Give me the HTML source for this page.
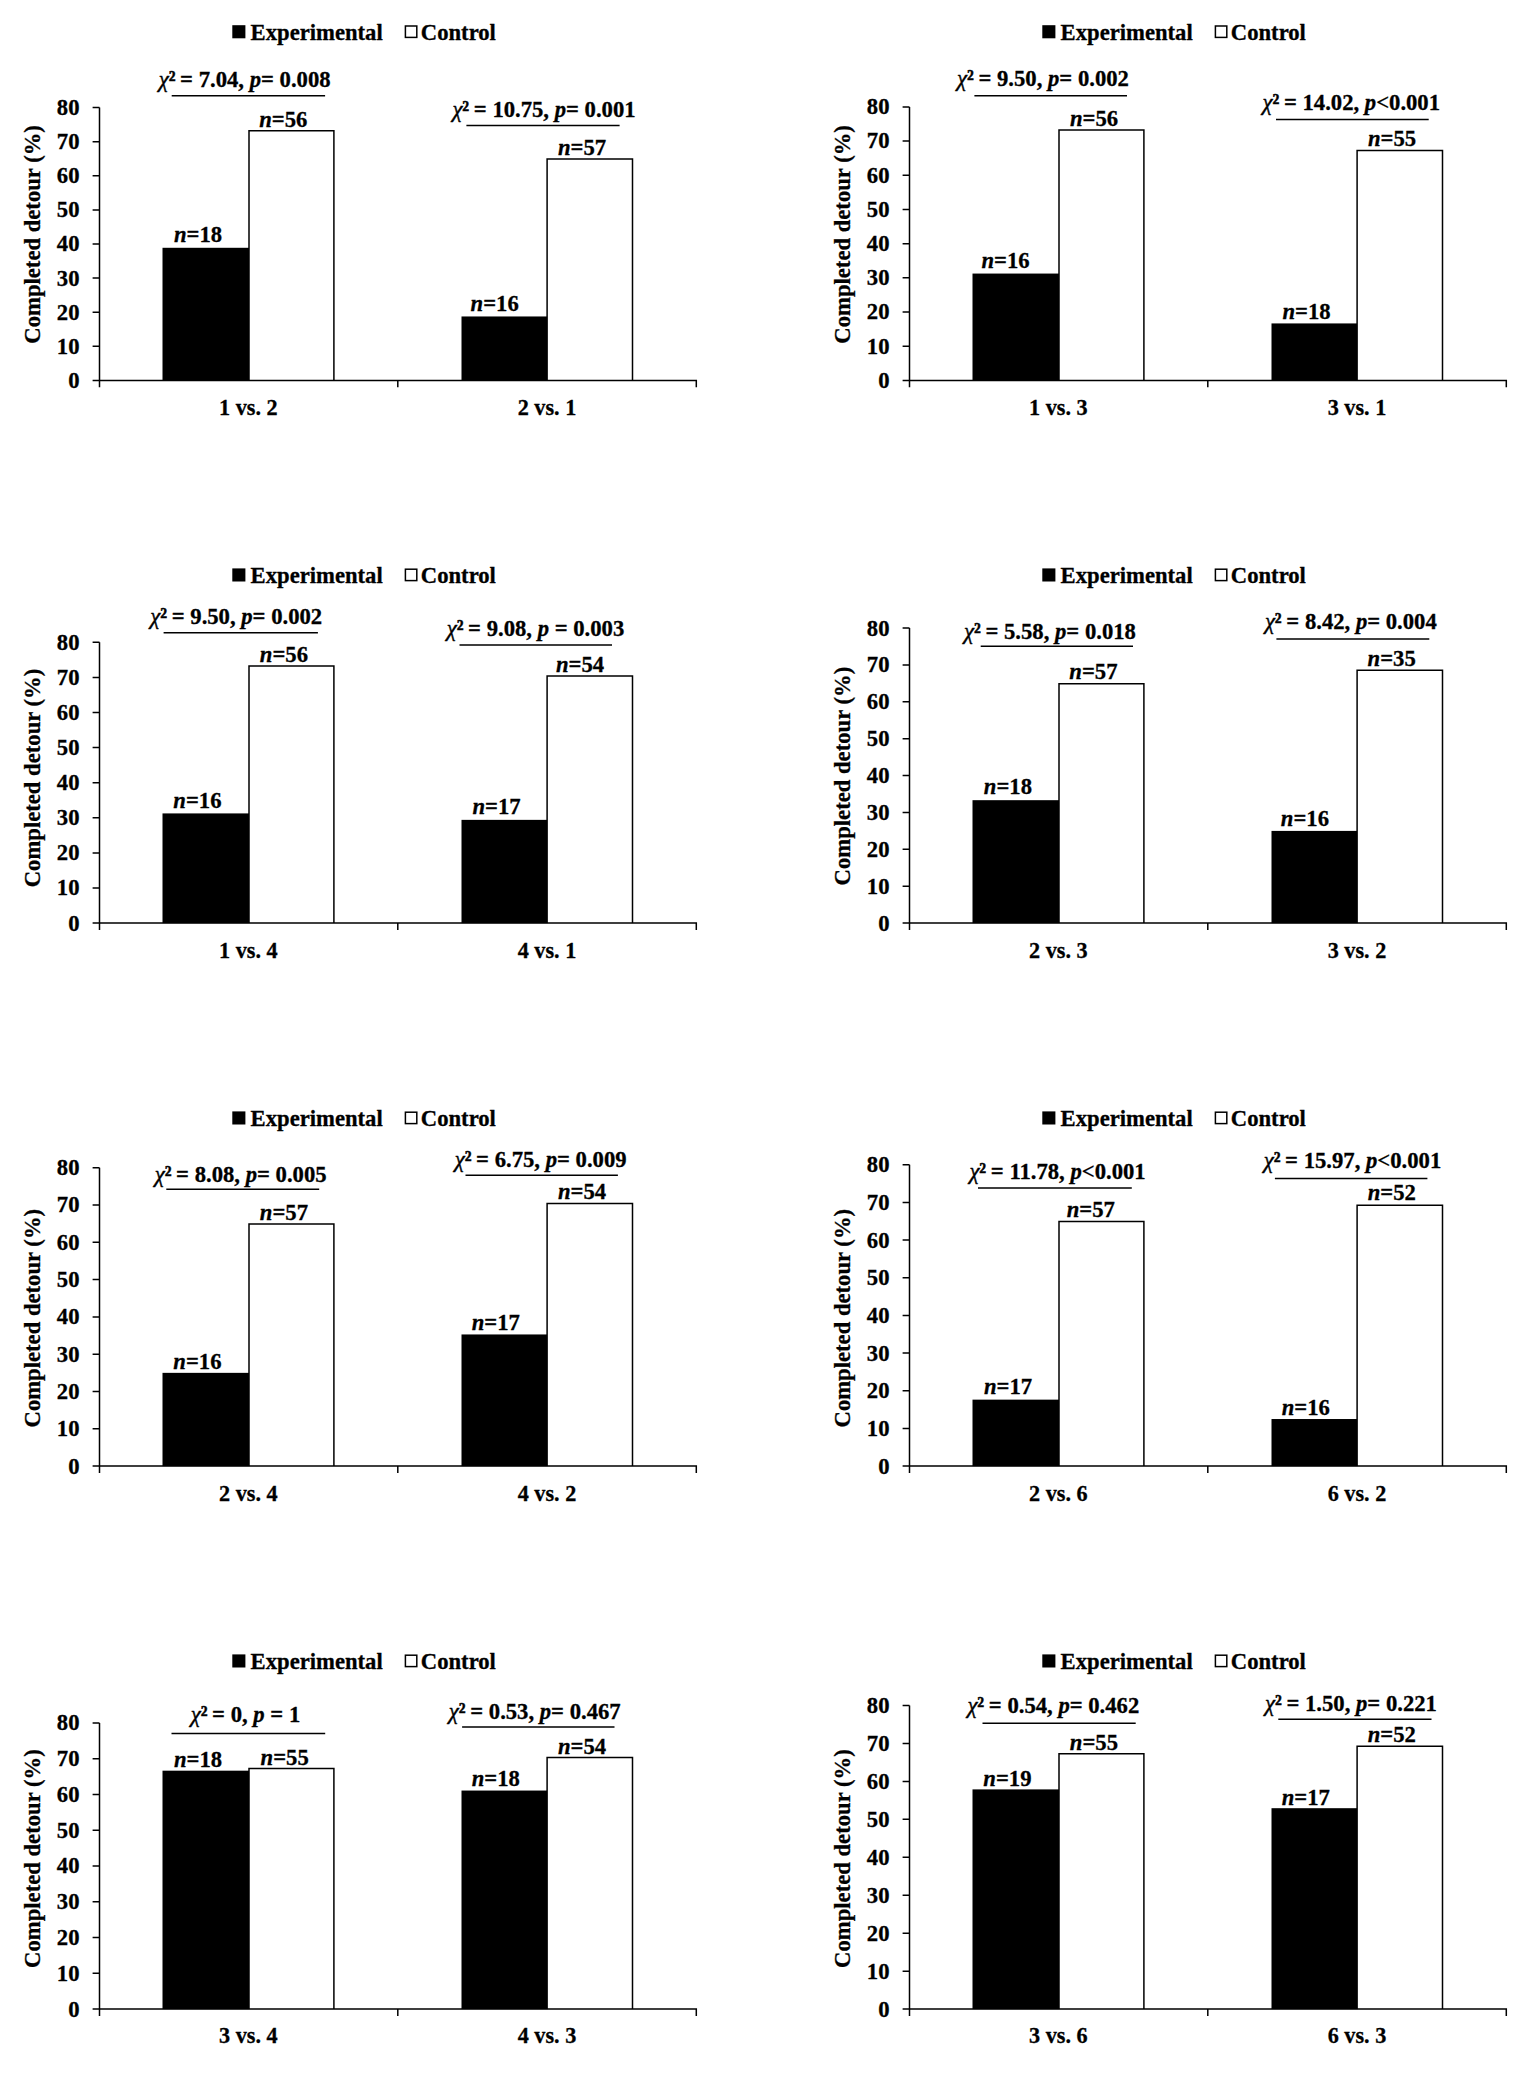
<!DOCTYPE html>
<html lang="en"><head><meta charset="utf-8"><title>Completed detour charts</title>
<style>
html,body{margin:0;padding:0;background:#fff;}
body{width:1535px;height:2073px;overflow:hidden;}
svg{display:block;}
text{font-family:"Liberation Serif","Times New Roman",Times,serif;font-weight:bold;font-size:22.67px;fill:#000;stroke:#000;stroke-width:0.3px;}
.i{font-style:italic;}
.x{font-style:italic;font-weight:normal;stroke-width:0.45px;}
.s2{stroke:#000;stroke-width:0.5px;}
.ax{stroke:#000;stroke-width:1.5;fill:none;}
.wb{stroke:#000;stroke-width:1.5;fill:#fff;}
.bb{fill:#000;stroke:none;}
</style></head><body>
<svg width="1535" height="2073" viewBox="0 0 1535 2073">
<rect x="0" y="0" width="1535" height="2073" fill="#fff"/>
<g transform="translate(0,0)">
<rect class="bb" x="232.3" y="25.2" width="13.1" height="13.1"/>
<text x="250.6" y="40">Experimental</text>
<rect class="wb" x="405.4" y="26" width="11.4" height="11.4"/>
<text x="420.8" y="40">Control</text>
<text transform="translate(39.8,234.4) rotate(-90)" text-anchor="middle">Completed detour (%)</text>
<text x="79.5" y="387.8" text-anchor="end">0</text>
<text x="79.5" y="353.7" text-anchor="end">10</text>
<text x="79.5" y="319.6" text-anchor="end">20</text>
<text x="79.5" y="285.5" text-anchor="end">30</text>
<text x="79.5" y="251.4" text-anchor="end">40</text>
<text x="79.5" y="217.3" text-anchor="end">50</text>
<text x="79.5" y="183.2" text-anchor="end">60</text>
<text x="79.5" y="149.1" text-anchor="end">70</text>
<text x="79.5" y="115" text-anchor="end">80</text>
<rect class="bb" x="162.5" y="247.79" width="87.1" height="132.61"/>
<path class="wb" d="M249 380.4 V130.74 H333.9 V380.4"/>
<text x="174" y="242.2"><tspan class="i">n</tspan>=18</text>
<text x="259.2" y="127.3"><tspan class="i">n</tspan>=56</text>
<text x="157.7" y="87" xml:space="preserve"><tspan class="x" dx="1">χ</tspan><tspan class="s2">²</tspan><tspan dx="-1"> = 7.04, <tspan class="i">p</tspan>= 0.008</tspan></text>
<text x="248.4" y="415.2" text-anchor="middle" style="font-size:22.2px">1 vs. 2</text>
<rect class="bb" x="461.5" y="316.46" width="86.2" height="63.94"/>
<path class="wb" d="M547.1 380.4 V159.05 H632.5 V380.4"/>
<text x="470.6" y="311.3"><tspan class="i">n</tspan>=16</text>
<text x="558" y="155"><tspan class="i">n</tspan>=57</text>
<text x="451.4" y="117" xml:space="preserve"><tspan class="x" dx="1">χ</tspan><tspan class="s2">²</tspan><tspan dx="-1"> = 10.75, <tspan class="i">p</tspan>= 0.001</tspan></text>
<text x="547" y="415.2" text-anchor="middle" style="font-size:22.2px">2 vs. 1</text>
<path class="ax" d="M99.5 107.6 V387.2 M92.6 380.4 H696.3 V387.2 M397.8 380.4 V387.2 M92.6 346.3 H99.5 M92.6 312.2 H99.5 M92.6 278.1 H99.5 M92.6 244 H99.5 M92.6 209.9 H99.5 M92.6 175.8 H99.5 M92.6 141.7 H99.5 M92.6 107.6 H99.5 M171.7 95.7 H325.1 M466.4 125.5 H619.6"/>
</g>
<g transform="translate(810,0)">
<rect class="bb" x="232.3" y="25.2" width="13.1" height="13.1"/>
<text x="250.6" y="40">Experimental</text>
<rect class="wb" x="405.4" y="26" width="11.4" height="11.4"/>
<text x="420.8" y="40">Control</text>
<text transform="translate(39.8,234.4) rotate(-90)" text-anchor="middle">Completed detour (%)</text>
<text x="79.5" y="387.8" text-anchor="end">0</text>
<text x="79.5" y="353.61" text-anchor="end">10</text>
<text x="79.5" y="319.42" text-anchor="end">20</text>
<text x="79.5" y="285.24" text-anchor="end">30</text>
<text x="79.5" y="251.05" text-anchor="end">40</text>
<text x="79.5" y="216.86" text-anchor="end">50</text>
<text x="79.5" y="182.67" text-anchor="end">60</text>
<text x="79.5" y="148.49" text-anchor="end">70</text>
<text x="79.5" y="114.3" text-anchor="end">80</text>
<rect class="bb" x="162.5" y="273.56" width="87.1" height="106.84"/>
<path class="wb" d="M249 380.4 V130.1 H333.9 V380.4"/>
<text x="171.4" y="268"><tspan class="i">n</tspan>=16</text>
<text x="260" y="126.2"><tspan class="i">n</tspan>=56</text>
<text x="146" y="86.4" xml:space="preserve"><tspan class="x" dx="1">χ</tspan><tspan class="s2">²</tspan><tspan dx="-1"> = 9.50, <tspan class="i">p</tspan>= 0.002</tspan></text>
<text x="248.4" y="415.2" text-anchor="middle" style="font-size:22.2px">1 vs. 3</text>
<rect class="bb" x="461.5" y="323.42" width="86.2" height="56.98"/>
<path class="wb" d="M547.1 380.4 V150.41 H632.5 V380.4"/>
<text x="472.5" y="318.7"><tspan class="i">n</tspan>=18</text>
<text x="558" y="145.8"><tspan class="i">n</tspan>=55</text>
<text x="451.5" y="110.3" xml:space="preserve"><tspan class="x" dx="1">χ</tspan><tspan class="s2">²</tspan><tspan dx="-1"> = 14.02, <tspan class="i">p</tspan>&lt;0.001</tspan></text>
<text x="547" y="415.2" text-anchor="middle" style="font-size:22.2px">3 vs. 1</text>
<path class="ax" d="M99.5 106.9 V387.2 M92.6 380.4 H696.3 V387.2 M397.8 380.4 V387.2 M92.6 346.21 H99.5 M92.6 312.02 H99.5 M92.6 277.84 H99.5 M92.6 243.65 H99.5 M92.6 209.46 H99.5 M92.6 175.27 H99.5 M92.6 141.09 H99.5 M92.6 106.9 H99.5 M164.4 95.8 H317 M466 119.4 H618.7"/>
</g>
<g transform="translate(0,0)">
<rect class="bb" x="232.3" y="568.4" width="13.1" height="13.1"/>
<text x="250.6" y="583.2">Experimental</text>
<rect class="wb" x="405.4" y="569.2" width="11.4" height="11.4"/>
<text x="420.8" y="583.2">Control</text>
<text transform="translate(39.8,778) rotate(-90)" text-anchor="middle">Completed detour (%)</text>
<text x="79.5" y="930.5" text-anchor="end">0</text>
<text x="79.5" y="895.4" text-anchor="end">10</text>
<text x="79.5" y="860.3" text-anchor="end">20</text>
<text x="79.5" y="825.2" text-anchor="end">30</text>
<text x="79.5" y="790.1" text-anchor="end">40</text>
<text x="79.5" y="755" text-anchor="end">50</text>
<text x="79.5" y="719.9" text-anchor="end">60</text>
<text x="79.5" y="684.8" text-anchor="end">70</text>
<text x="79.5" y="649.7" text-anchor="end">80</text>
<rect class="bb" x="162.5" y="813.41" width="87.1" height="109.69"/>
<path class="wb" d="M249 923.1 V666.12 H333.9 V923.1"/>
<text x="173.3" y="808.4"><tspan class="i">n</tspan>=16</text>
<text x="259.8" y="662"><tspan class="i">n</tspan>=56</text>
<text x="149.3" y="623.9" xml:space="preserve"><tspan class="x" dx="1">χ</tspan><tspan class="s2">²</tspan><tspan dx="-1"> = 9.50, <tspan class="i">p</tspan>= 0.002</tspan></text>
<text x="248.4" y="957.6" text-anchor="middle" style="font-size:22.2px">1 vs. 4</text>
<rect class="bb" x="461.5" y="819.86" width="86.2" height="103.24"/>
<path class="wb" d="M547.1 923.1 V676.1 H632.5 V923.1"/>
<text x="472.5" y="814.4"><tspan class="i">n</tspan>=17</text>
<text x="555.9" y="672.4"><tspan class="i">n</tspan>=54</text>
<text x="445.7" y="636.4" xml:space="preserve"><tspan class="x" dx="1">χ</tspan><tspan class="s2">²</tspan><tspan dx="-1"> = 9.08, <tspan class="i">p</tspan> = 0.003</tspan></text>
<text x="547" y="957.6" text-anchor="middle" style="font-size:22.2px">4 vs. 1</text>
<path class="ax" d="M99.5 642.3 V929.9 M92.6 923.1 H696.3 V929.9 M397.8 923.1 V929.9 M92.6 888 H99.5 M92.6 852.9 H99.5 M92.6 817.8 H99.5 M92.6 782.7 H99.5 M92.6 747.6 H99.5 M92.6 712.5 H99.5 M92.6 677.4 H99.5 M92.6 642.3 H99.5 M163.6 632.8 H317.9 M459.5 645 H612"/>
</g>
<g transform="translate(810,0)">
<rect class="bb" x="232.3" y="568.4" width="13.1" height="13.1"/>
<text x="250.6" y="583.2">Experimental</text>
<rect class="wb" x="405.4" y="569.2" width="11.4" height="11.4"/>
<text x="420.8" y="583.2">Control</text>
<text transform="translate(39.8,776.1) rotate(-90)" text-anchor="middle">Completed detour (%)</text>
<text x="79.5" y="930.5" text-anchor="end">0</text>
<text x="79.5" y="893.62" text-anchor="end">10</text>
<text x="79.5" y="856.75" text-anchor="end">20</text>
<text x="79.5" y="819.88" text-anchor="end">30</text>
<text x="79.5" y="783" text-anchor="end">40</text>
<text x="79.5" y="746.12" text-anchor="end">50</text>
<text x="79.5" y="709.25" text-anchor="end">60</text>
<text x="79.5" y="672.38" text-anchor="end">70</text>
<text x="79.5" y="635.5" text-anchor="end">80</text>
<rect class="bb" x="162.5" y="800.18" width="87.1" height="122.92"/>
<path class="wb" d="M249 923.1 V683.74 H333.9 V923.1"/>
<text x="173.8" y="794"><tspan class="i">n</tspan>=18</text>
<text x="259.3" y="678.6"><tspan class="i">n</tspan>=57</text>
<text x="153" y="638.5" xml:space="preserve"><tspan class="x" dx="1">χ</tspan><tspan class="s2">²</tspan><tspan dx="-1"> = 5.58, <tspan class="i">p</tspan>= 0.018</tspan></text>
<text x="248.4" y="957.6" text-anchor="middle" style="font-size:22.2px">2 vs. 3</text>
<rect class="bb" x="461.5" y="830.91" width="86.2" height="92.19"/>
<path class="wb" d="M547.1 923.1 V670.24 H632.5 V923.1"/>
<text x="470.8" y="825.7"><tspan class="i">n</tspan>=16</text>
<text x="557.6" y="665.8"><tspan class="i">n</tspan>=35</text>
<text x="453.9" y="629" xml:space="preserve"><tspan class="x" dx="1">χ</tspan><tspan class="s2">²</tspan><tspan dx="-1"> = 8.42, <tspan class="i">p</tspan>= 0.004</tspan></text>
<text x="547" y="957.6" text-anchor="middle" style="font-size:22.2px">3 vs. 2</text>
<path class="ax" d="M99.5 628.1 V929.9 M92.6 923.1 H696.3 V929.9 M397.8 923.1 V929.9 M92.6 886.23 H99.5 M92.6 849.35 H99.5 M92.6 812.48 H99.5 M92.6 775.6 H99.5 M92.6 738.73 H99.5 M92.6 701.85 H99.5 M92.6 664.98 H99.5 M92.6 628.1 H99.5 M170.7 646.3 H323 M466.4 639 H619.3"/>
</g>
<g transform="translate(0,0)">
<rect class="bb" x="232.3" y="1111.4" width="13.1" height="13.1"/>
<text x="250.6" y="1126.2">Experimental</text>
<rect class="wb" x="405.4" y="1112.2" width="11.4" height="11.4"/>
<text x="420.8" y="1126.2">Control</text>
<text transform="translate(39.8,1318.2) rotate(-90)" text-anchor="middle">Completed detour (%)</text>
<text x="79.5" y="1473.5" text-anchor="end">0</text>
<text x="79.5" y="1436.2" text-anchor="end">10</text>
<text x="79.5" y="1398.9" text-anchor="end">20</text>
<text x="79.5" y="1361.6" text-anchor="end">30</text>
<text x="79.5" y="1324.3" text-anchor="end">40</text>
<text x="79.5" y="1287" text-anchor="end">50</text>
<text x="79.5" y="1249.7" text-anchor="end">60</text>
<text x="79.5" y="1212.4" text-anchor="end">70</text>
<text x="79.5" y="1175.1" text-anchor="end">80</text>
<rect class="bb" x="162.5" y="1372.85" width="87.1" height="93.25"/>
<path class="wb" d="M249 1466.1 V1223.98 H333.9 V1466.1"/>
<text x="173.3" y="1369.1"><tspan class="i">n</tspan>=16</text>
<text x="259.8" y="1219.8"><tspan class="i">n</tspan>=57</text>
<text x="153.7" y="1181.5" xml:space="preserve"><tspan class="x" dx="1">χ</tspan><tspan class="s2">²</tspan><tspan dx="-1"> = 8.08, <tspan class="i">p</tspan>= 0.005</tspan></text>
<text x="248.4" y="1500.6" text-anchor="middle" style="font-size:22.2px">2 vs. 4</text>
<rect class="bb" x="461.5" y="1334.45" width="86.2" height="131.65"/>
<path class="wb" d="M547.1 1466.1 V1203.62 H632.5 V1466.1"/>
<text x="471.7" y="1329.8"><tspan class="i">n</tspan>=17</text>
<text x="558" y="1199"><tspan class="i">n</tspan>=54</text>
<text x="453.7" y="1166.9" xml:space="preserve"><tspan class="x" dx="1">χ</tspan><tspan class="s2">²</tspan><tspan dx="-1"> = 6.75, <tspan class="i">p</tspan>= 0.009</tspan></text>
<text x="547" y="1500.6" text-anchor="middle" style="font-size:22.2px">4 vs. 2</text>
<path class="ax" d="M99.5 1167.7 V1472.9 M92.6 1466.1 H696.3 V1472.9 M397.8 1466.1 V1472.9 M92.6 1428.8 H99.5 M92.6 1391.5 H99.5 M92.6 1354.2 H99.5 M92.6 1316.9 H99.5 M92.6 1279.6 H99.5 M92.6 1242.3 H99.5 M92.6 1205 H99.5 M92.6 1167.7 H99.5 M166.3 1189.3 H319.2 M465.5 1175.2 H617.9"/>
</g>
<g transform="translate(810,0)">
<rect class="bb" x="232.3" y="1111.4" width="13.1" height="13.1"/>
<text x="250.6" y="1126.2">Experimental</text>
<rect class="wb" x="405.4" y="1112.2" width="11.4" height="11.4"/>
<text x="420.8" y="1126.2">Control</text>
<text transform="translate(39.8,1318.2) rotate(-90)" text-anchor="middle">Completed detour (%)</text>
<text x="79.5" y="1473.5" text-anchor="end">0</text>
<text x="79.5" y="1435.84" text-anchor="end">10</text>
<text x="79.5" y="1398.17" text-anchor="end">20</text>
<text x="79.5" y="1360.51" text-anchor="end">30</text>
<text x="79.5" y="1322.85" text-anchor="end">40</text>
<text x="79.5" y="1285.19" text-anchor="end">50</text>
<text x="79.5" y="1247.53" text-anchor="end">60</text>
<text x="79.5" y="1209.86" text-anchor="end">70</text>
<text x="79.5" y="1172.2" text-anchor="end">80</text>
<rect class="bb" x="162.5" y="1399.64" width="87.1" height="66.46"/>
<path class="wb" d="M249 1466.1 V1221.62 H333.9 V1466.1"/>
<text x="174" y="1394.4"><tspan class="i">n</tspan>=17</text>
<text x="256.7" y="1217.2"><tspan class="i">n</tspan>=57</text>
<text x="158.4" y="1178.6" xml:space="preserve"><tspan class="x" dx="1">χ</tspan><tspan class="s2">²</tspan><tspan dx="-1"> = 11.78, <tspan class="i">p</tspan>&lt;0.001</tspan></text>
<text x="248.4" y="1500.6" text-anchor="middle" style="font-size:22.2px">2 vs. 6</text>
<rect class="bb" x="461.5" y="1419.02" width="86.2" height="47.08"/>
<path class="wb" d="M547.1 1466.1 V1205.36 H632.5 V1466.1"/>
<text x="471.7" y="1415.3"><tspan class="i">n</tspan>=16</text>
<text x="557.7" y="1200.3"><tspan class="i">n</tspan>=52</text>
<text x="452.7" y="1167.7" xml:space="preserve"><tspan class="x" dx="1">χ</tspan><tspan class="s2">²</tspan><tspan dx="-1"> = 15.97, <tspan class="i">p</tspan>&lt;0.001</tspan></text>
<text x="547" y="1500.6" text-anchor="middle" style="font-size:22.2px">6 vs. 2</text>
<path class="ax" d="M99.5 1164.8 V1472.9 M92.6 1466.1 H696.3 V1472.9 M397.8 1466.1 V1472.9 M92.6 1428.44 H99.5 M92.6 1390.77 H99.5 M92.6 1353.11 H99.5 M92.6 1315.45 H99.5 M92.6 1277.79 H99.5 M92.6 1240.12 H99.5 M92.6 1202.46 H99.5 M92.6 1164.8 H99.5 M168 1188 H321.8 M464.9 1178.4 H617.4"/>
</g>
<g transform="translate(0,0)">
<rect class="bb" x="232.3" y="1654.4" width="13.1" height="13.1"/>
<text x="250.6" y="1669.2">Experimental</text>
<rect class="wb" x="405.4" y="1655.2" width="11.4" height="11.4"/>
<text x="420.8" y="1669.2">Control</text>
<text transform="translate(39.8,1858.6) rotate(-90)" text-anchor="middle">Completed detour (%)</text>
<text x="79.5" y="2016.5" text-anchor="end">0</text>
<text x="79.5" y="1980.74" text-anchor="end">10</text>
<text x="79.5" y="1944.97" text-anchor="end">20</text>
<text x="79.5" y="1909.21" text-anchor="end">30</text>
<text x="79.5" y="1873.45" text-anchor="end">40</text>
<text x="79.5" y="1837.69" text-anchor="end">50</text>
<text x="79.5" y="1801.93" text-anchor="end">60</text>
<text x="79.5" y="1766.16" text-anchor="end">70</text>
<text x="79.5" y="1730.4" text-anchor="end">80</text>
<rect class="bb" x="162.5" y="1770.68" width="87.1" height="238.42"/>
<path class="wb" d="M249 2009.1 V1768.52 H333.9 V2009.1"/>
<text x="174" y="1766.7"><tspan class="i">n</tspan>=18</text>
<text x="260.6" y="1764.9"><tspan class="i">n</tspan>=55</text>
<text x="189.7" y="1722.4" xml:space="preserve"><tspan class="x" dx="1">χ</tspan><tspan class="s2">²</tspan><tspan dx="-1"> = 0, <tspan class="i">p</tspan> = 1</tspan></text>
<text x="248.4" y="2043.4" text-anchor="middle" style="font-size:22.2px">3 vs. 4</text>
<rect class="bb" x="461.5" y="1790.55" width="86.2" height="218.55"/>
<path class="wb" d="M547.1 2009.1 V1757.44 H632.5 V2009.1"/>
<text x="471.7" y="1786.3"><tspan class="i">n</tspan>=18</text>
<text x="558" y="1753.7"><tspan class="i">n</tspan>=54</text>
<text x="447.8" y="1718.5" xml:space="preserve"><tspan class="x" dx="1">χ</tspan><tspan class="s2">²</tspan><tspan dx="-1"> = 0.53, <tspan class="i">p</tspan>= 0.467</tspan></text>
<text x="547" y="2043.4" text-anchor="middle" style="font-size:22.2px">4 vs. 3</text>
<path class="ax" d="M99.5 1723 V2015.9 M92.6 2009.1 H696.3 V2015.9 M397.8 2009.1 V2015.9 M92.6 1973.34 H99.5 M92.6 1937.57 H99.5 M92.6 1901.81 H99.5 M92.6 1866.05 H99.5 M92.6 1830.29 H99.5 M92.6 1794.53 H99.5 M92.6 1758.76 H99.5 M92.6 1723 H99.5 M171.5 1733.4 H325.2 M462.1 1726.9 H614.5"/>
</g>
<g transform="translate(810,0)">
<rect class="bb" x="232.3" y="1654.4" width="13.1" height="13.1"/>
<text x="250.6" y="1669.2">Experimental</text>
<rect class="wb" x="405.4" y="1655.2" width="11.4" height="11.4"/>
<text x="420.8" y="1669.2">Control</text>
<text transform="translate(39.8,1858.6) rotate(-90)" text-anchor="middle">Completed detour (%)</text>
<text x="79.5" y="2016.5" text-anchor="end">0</text>
<text x="79.5" y="1978.55" text-anchor="end">10</text>
<text x="79.5" y="1940.6" text-anchor="end">20</text>
<text x="79.5" y="1902.65" text-anchor="end">30</text>
<text x="79.5" y="1864.7" text-anchor="end">40</text>
<text x="79.5" y="1826.75" text-anchor="end">50</text>
<text x="79.5" y="1788.8" text-anchor="end">60</text>
<text x="79.5" y="1750.85" text-anchor="end">70</text>
<text x="79.5" y="1712.9" text-anchor="end">80</text>
<rect class="bb" x="162.5" y="1789.39" width="87.1" height="219.71"/>
<path class="wb" d="M249 2009.1 V1753.8 H333.9 V2009.1"/>
<text x="173.3" y="1785.8"><tspan class="i">n</tspan>=19</text>
<text x="259.8" y="1749.8"><tspan class="i">n</tspan>=55</text>
<text x="156.4" y="1713.3" xml:space="preserve"><tspan class="x" dx="1">χ</tspan><tspan class="s2">²</tspan><tspan dx="-1"> = 0.54, <tspan class="i">p</tspan>= 0.462</tspan></text>
<text x="248.4" y="2043.4" text-anchor="middle" style="font-size:22.2px">3 vs. 6</text>
<rect class="bb" x="461.5" y="1808.19" width="86.2" height="200.91"/>
<path class="wb" d="M547.1 2009.1 V1746.37 H632.5 V2009.1"/>
<text x="471.7" y="1804.5"><tspan class="i">n</tspan>=17</text>
<text x="557.7" y="1742"><tspan class="i">n</tspan>=52</text>
<text x="454" y="1710.7" xml:space="preserve"><tspan class="x" dx="1">χ</tspan><tspan class="s2">²</tspan><tspan dx="-1"> = 1.50, <tspan class="i">p</tspan>= 0.221</tspan></text>
<text x="547" y="2043.4" text-anchor="middle" style="font-size:22.2px">6 vs. 3</text>
<path class="ax" d="M99.5 1705.5 V2015.9 M92.6 2009.1 H696.3 V2015.9 M397.8 2009.1 V2015.9 M92.6 1971.15 H99.5 M92.6 1933.2 H99.5 M92.6 1895.25 H99.5 M92.6 1857.3 H99.5 M92.6 1819.35 H99.5 M92.6 1781.4 H99.5 M92.6 1743.45 H99.5 M92.6 1705.5 H99.5 M172.5 1723.2 H325.7 M468.3 1719.3 H621.5"/>
</g>
</svg></body></html>
